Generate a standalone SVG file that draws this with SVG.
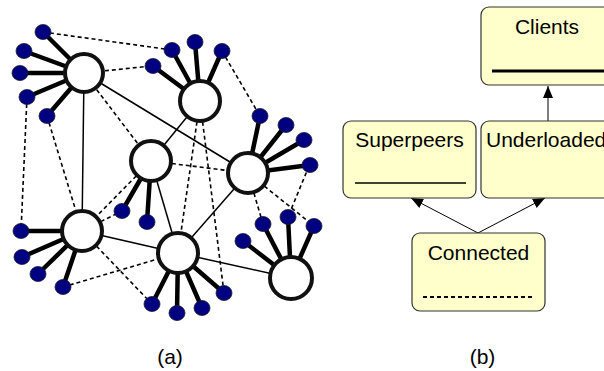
<svg xmlns="http://www.w3.org/2000/svg" width="604" height="371" viewBox="0 0 604 371">
<style>
.big{fill:#fff;stroke:#111;stroke-width:4}
.leaf{fill:#000080;stroke:#1a1a2a;stroke-width:0.8}
.sp{stroke:#000;stroke-width:4.5;fill:none}
.so{stroke:#000;stroke-width:1.5;fill:none}
.da{stroke:#000;stroke-width:1.6;stroke-dasharray:4 3;fill:none}
.box{fill:#ffffcc;stroke:#333;stroke-width:1.2}
.t{font-family:"Liberation Sans",Arial,sans-serif;font-size:21px;fill:#000}
.ar{stroke:#000;stroke-width:1;fill:none}
</style>
<defs>
<marker id="ah" viewBox="0 0 12 10" refX="12" refY="5" markerWidth="12" markerHeight="10" markerUnits="userSpaceOnUse" orient="auto">
<path d="M0,0 L12,5 L0,10 z" fill="#000"/>
</marker>
</defs>
<g id="connectors">
<!-- dashed -->
<line class="da" x1="43" y1="32" x2="172" y2="50"/>
<line class="da" x1="84" y1="73" x2="151" y2="66"/>
<line class="da" x1="84" y1="73" x2="151" y2="161"/>
<line class="da" x1="27" y1="97" x2="21" y2="231"/>
<line class="da" x1="47" y1="116" x2="82" y2="231"/>
<line class="da" x1="222" y1="51" x2="260" y2="116"/>
<line class="da" x1="200" y1="101" x2="178" y2="253"/>
<line class="da" x1="200" y1="101" x2="224" y2="293"/>
<line class="da" x1="151" y1="161" x2="248" y2="173"/>
<line class="da" x1="151" y1="161" x2="82" y2="231"/>
<line class="da" x1="82" y1="231" x2="122" y2="211"/>
<line class="da" x1="82" y1="231" x2="152" y2="304"/>
<line class="da" x1="63" y1="287" x2="178" y2="253"/>
<line class="da" x1="248" y1="173" x2="263" y2="224"/>
<line class="da" x1="248" y1="173" x2="314" y2="226"/>
<line class="da" x1="309" y1="166" x2="288" y2="217"/>
<!-- solid -->
<line class="so" x1="84" y1="73" x2="248" y2="173"/>
<line class="so" x1="84" y1="73" x2="82" y2="231"/>
<line class="so" x1="200" y1="101" x2="151" y2="161"/>
<line class="so" x1="151" y1="161" x2="178" y2="253"/>
<line class="so" x1="82" y1="231" x2="178" y2="253"/>
<line class="so" x1="248" y1="173" x2="178" y2="253"/>
<line class="so" x1="178" y1="253" x2="291" y2="278"/>
<!-- spokes -->
<path class="sp" d="M84,73L43,32M84,73L24,51M84,73L20,73M84,73L27,97M84,73L47,116"/>
<path class="sp" d="M200,101L153,66M200,101L172,50M200,101L195,42M200,101L222,51"/>
<path class="sp" d="M151,161L122,211M151,161L147,222"/>
<path class="sp" d="M248,173L260,116M248,173L286,125M248,173L304,140M248,173L310,165"/>
<path class="sp" d="M82,231L21,231M82,231L22,257M82,231L38,274M82,231L63,287"/>
<path class="sp" d="M178,253L152,304M178,253L177,313M178,253L202,308M178,253L224,293"/>
<path class="sp" d="M291,278L243,241M291,278L263,224M291,278L288,217M291,278L314,226"/>
<!-- panel b arrows -->
<line class="ar" x1="548" y1="121" x2="548" y2="86" marker-end="url(#ah)"/>
<line class="ar" x1="478" y1="233" x2="411" y2="198" marker-end="url(#ah)"/>
<line class="ar" x1="478" y1="233" x2="545" y2="198" marker-end="url(#ah)"/>
</g>
<g id="nodeA"><circle class="big" cx="84" cy="73" r="19"/>
<ellipse class="leaf" cx="43" cy="32" rx="8" ry="7.5"/><ellipse class="leaf" cx="24" cy="51" rx="8" ry="7.5"/><ellipse class="leaf" cx="20" cy="73" rx="8" ry="7.5"/><ellipse class="leaf" cx="27" cy="97" rx="8" ry="7.5"/><ellipse class="leaf" cx="47" cy="116" rx="8" ry="7.5"/></g>
<g id="nodeB"><circle class="big" cx="200" cy="101" r="20"/>
<ellipse class="leaf" cx="153" cy="66" rx="8" ry="7.5"/><ellipse class="leaf" cx="172" cy="50" rx="8" ry="7.5"/><ellipse class="leaf" cx="195" cy="42" rx="8" ry="7.5"/><ellipse class="leaf" cx="222" cy="51" rx="8" ry="7.5"/></g>
<g id="nodeC"><circle class="big" cx="151" cy="161" r="20"/>
<ellipse class="leaf" cx="122" cy="211" rx="8" ry="7.5"/><ellipse class="leaf" cx="147" cy="222" rx="8" ry="7.5"/></g>
<g id="nodeD"><circle class="big" cx="248" cy="173" r="20"/>
<ellipse class="leaf" cx="260" cy="116" rx="8" ry="7.5"/><ellipse class="leaf" cx="286" cy="125" rx="8" ry="7.5"/><ellipse class="leaf" cx="304" cy="140" rx="8" ry="7.5"/><ellipse class="leaf" cx="310" cy="165" rx="8" ry="7.5"/></g>
<g id="nodeE"><circle class="big" cx="82" cy="231" r="20"/>
<ellipse class="leaf" cx="21" cy="231" rx="8" ry="7.5"/><ellipse class="leaf" cx="22" cy="257" rx="8" ry="7.5"/><ellipse class="leaf" cx="38" cy="274" rx="8" ry="7.5"/><ellipse class="leaf" cx="63" cy="287" rx="8" ry="7.5"/></g>
<g id="nodeF"><circle class="big" cx="178" cy="253" r="20"/>
<ellipse class="leaf" cx="152" cy="304" rx="8" ry="7.5"/><ellipse class="leaf" cx="177" cy="313" rx="8" ry="7.5"/><ellipse class="leaf" cx="202" cy="308" rx="8" ry="7.5"/><ellipse class="leaf" cx="224" cy="293" rx="8" ry="7.5"/></g>
<g id="nodeG"><circle class="big" cx="291" cy="278" r="21"/>
<ellipse class="leaf" cx="243" cy="241" rx="8" ry="7.5"/><ellipse class="leaf" cx="263" cy="224" rx="8" ry="7.5"/><ellipse class="leaf" cx="288" cy="217" rx="8" ry="7.5"/><ellipse class="leaf" cx="314" cy="226" rx="8" ry="7.5"/></g>
<g id="clients"><rect class="box" x="481" y="7" width="140" height="78" rx="8"/>
<text class="t" x="547" y="34" text-anchor="middle">Clients</text>
<line x1="492" y1="71" x2="610" y2="71" stroke="#000" stroke-width="3"/></g>
<g id="superpeers"><rect class="box" x="343" y="121" width="133" height="77" rx="8"/>
<text class="t" x="409.5" y="147" text-anchor="middle">Superpeers</text>
<line x1="355" y1="183" x2="466" y2="183" stroke="#000" stroke-width="1.3"/></g>
<g id="underloaded"><rect class="box" x="481" y="121" width="140" height="77" rx="8"/>
<text class="t" x="486" y="147">Underloaded</text></g>
<g id="connected"><rect class="box" x="412" y="233" width="133" height="78" rx="8"/>
<text class="t" x="478.5" y="260" text-anchor="middle">Connected</text>
<line x1="423" y1="297" x2="534" y2="297" stroke="#000" stroke-width="1.8" stroke-dasharray="4 3"/></g>
<text class="t" x="170" y="364" text-anchor="middle">(a)</text>
<text class="t" x="482.5" y="364" text-anchor="middle">(b)</text>
</svg>
